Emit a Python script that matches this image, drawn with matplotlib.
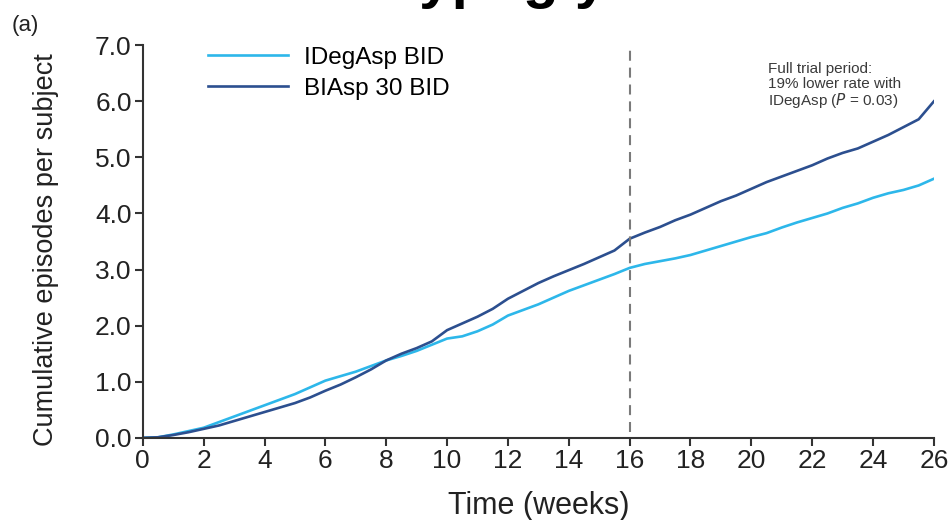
import matplotlib.pyplot as plt
import numpy as np

plt.rcParams['font.family'] = ['Liberation Sans', 'DejaVu Sans']

# cumulative hypoglycaemic episodes per subject, read every half week
weeks = np.arange(0, 26.5, 0.5)
idegasp = [0.00, 0.01, 0.06, 0.12, 0.18, 0.28, 0.38, 0.48, 0.58, 0.68,
           0.78, 0.90, 1.02, 1.10, 1.18, 1.28, 1.38, 1.46, 1.55, 1.66,
           1.77, 1.81, 1.90, 2.02, 2.18, 2.28, 2.38, 2.50, 2.62, 2.72,
           2.82, 2.92, 3.03, 3.10, 3.15, 3.20, 3.26, 3.34, 3.42, 3.50,
           3.58, 3.65, 3.75, 3.84, 3.92, 4.00, 4.10, 4.18, 4.28, 4.36,
           4.42, 4.50, 4.62]
biasp = [0.00, 0.01, 0.05, 0.10, 0.16, 0.22, 0.30, 0.38, 0.46, 0.54,
         0.62, 0.72, 0.84, 0.95, 1.08, 1.22, 1.38, 1.50, 1.60, 1.72,
         1.92, 2.04, 2.16, 2.30, 2.48, 2.62, 2.76, 2.88, 2.99, 3.10,
         3.22, 3.34, 3.55, 3.66, 3.76, 3.88, 3.98, 4.10, 4.22, 4.32,
         4.44, 4.56, 4.66, 4.76, 4.86, 4.98, 5.08, 5.16, 5.28, 5.40,
         5.54, 5.68, 6.00]

x_ticks = list(range(0, 27, 2))
y_ticks = [0.0, 1.0, 2.0, 3.0, 4.0, 5.0, 6.0, 7.0]
cutoff_week = 16

fig = plt.figure(figsize=(9.52, 5.2), dpi=100)
ax = fig.add_axes([0.150, 0.158, 0.831, 0.755])

ax.plot(weeks, idegasp, color='#2db7ea', lw=1.9, label='IDegAsp BID')
ax.plot(weeks, biasp, color='#2c4f8f', lw=1.9, label='BIAsp 30 BID')
ax.vlines(cutoff_week, 0.1, 7.0, colors='#7a7a7a', lw=1.5,
          linestyles=(0, (4.8, 3.3)))

ax.set_xlim(0, 26)
ax.set_ylim(0, 7)
ax.set_xticks(x_ticks)
ax.set_yticks(y_ticks)
ax.set_yticklabels(['%.1f' % v for v in y_ticks])
for side in ['top', 'right']:
    ax.spines[side].set_visible(False)
for side in ['left', 'bottom']:
    ax.spines[side].set_linewidth(1.5)
    ax.spines[side].set_color('#333333')
ax.tick_params(direction='out', length=6, width=1.5, color='#333333',
               labelsize=19, labelcolor='#222222', pad=2)

ax.set_xlabel('Time (weeks)', fontsize=22, color='#222222', labelpad=13)
ax.set_ylabel('Cumulative episodes per subject', fontsize=19.5,
              color='#222222')
ax.yaxis.set_label_coords(-0.106, 0.48)

ax.legend(loc='upper left', bbox_to_anchor=(0.055, 1.052), frameon=False,
          fontsize=17.5, handlelength=3.3, handletextpad=0.65,
          labelspacing=0.38)

ax.text(0.790, 0.957, 'Full trial period:\n19% lower rate with\n'
        'IDegAsp ($\\it{P}$ = 0.03)', transform=ax.transAxes,
        fontsize=11, color='#3a3a3a', va='top', ha='left', linespacing=1.05)

fig.text(0.012, 0.94, '(a)', fontsize=16, color='#222222')
fig.text(0.012, -0.035, '(b)', fontsize=16, color='#222222')
fig.text(0.396, 1.005, 'Hypoglycaemia', fontsize=42, fontweight='bold',
         color='black', va='baseline')

fig.savefig('out.png', dpi=100)
